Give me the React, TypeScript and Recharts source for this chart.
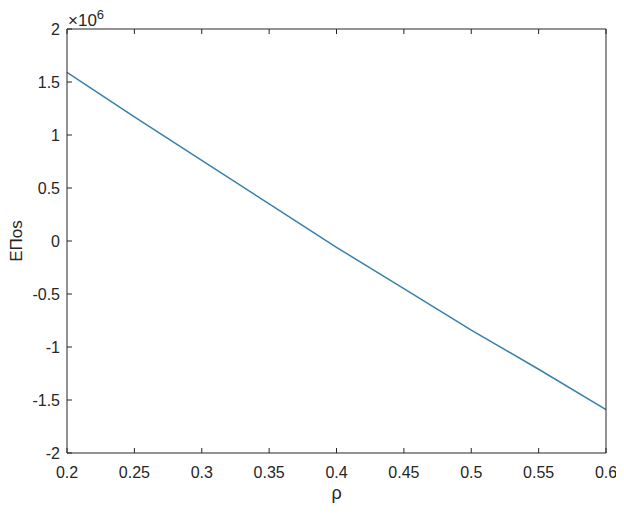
import React from 'react';
import { LineChart, Line, XAxis, YAxis, Label } from 'recharts';

const rho = [0.2, 0.25, 0.3, 0.35, 0.4, 0.45, 0.5, 0.55, 0.6];
const ePos = [1.59e6, 1.17e6, 0.76e6, 0.35e6, -0.06e6, -0.45e6, -0.84e6, -1.21e6, -1.59e6];
const xTicks = [0.2, 0.25, 0.3, 0.35, 0.4, 0.45, 0.5, 0.55, 0.6];
const yTicks = [-2e6, -1.5e6, -1e6, -0.5e6, 0, 0.5e6, 1e6, 1.5e6, 2e6];
const yScaleExp = 6;

const data = rho.map((r, i) => ({ rho: r, v: ePos[i] }));

const AX = '#262626';
const FONT = 'Arial, "Liberation Sans", Helvetica, sans-serif';
const TL = 5;

const BottomTick = (p: any) => {
  const m = 16;
  const ay = p.y - m;
  const x = p.payload.coordinate;
  return (
    <g>
      <line x1={x} x2={x} y1={ay} y2={ay - TL} stroke={AX} strokeWidth={1} />
      <text x={x} y={ay + 25} textAnchor="middle" fontSize={16} fill={AX}>
        {String(p.payload.value)}
      </text>
    </g>
  );
};

const TopTick = (p: any) => {
  const m = 4;
  const ay = p.y + m;
  const x = p.payload.coordinate;
  return <line x1={x} x2={x} y1={ay} y2={ay + TL} stroke={AX} strokeWidth={1} />;
};

const LeftTick = (p: any) => {
  const m = 8;
  const ax = p.x + m;
  const y = p.payload.coordinate;
  const isTop = p.payload.value === yTicks[yTicks.length - 1];
  return (
    <g>
      <line x1={ax} x2={ax + TL} y1={y} y2={y} stroke={AX} strokeWidth={1} />
      <text x={ax - 7} y={y + 6} textAnchor="end" fontSize={16} fill={AX}>
        {String(p.payload.value / Math.pow(10, yScaleExp))}
      </text>
      {isTop && (
        <text x={ax + 1} y={y - 3} fontSize={17} fill={AX}>
          ×10
          <tspan dy={-7} fontSize={13}>
            {String(yScaleExp)}
          </tspan>
        </text>
      )}
    </g>
  );
};

const RightTick = (p: any) => {
  const m = 4;
  const ax = p.x - m;
  const y = p.payload.coordinate;
  return <line x1={ax} x2={ax - TL} y1={y} y2={y} stroke={AX} strokeWidth={1} />;
};

export default function App() {
  return (
    <LineChart
      width={616}
      height={497}
      data={data}
      margin={{ top: 20, right: 17, bottom: 0, left: 0 }}
      style={{ fontFamily: FONT, overflow: 'visible' }}
    >
      <XAxis
        xAxisId="b"
        dataKey="rho"
        type="number"
        domain={[0.2, 0.6]}
        ticks={xTicks}
        allowDataOverflow
        height={52}
        tickSize={0}
        tickMargin={16}
        tickLine={false}
        stroke={AX}
        tick={BottomTick}
        interval={0}
      >
        <Label
          content={(p: any) => {
            const vb = p.viewBox;
            return (
              <text x={vb.x + vb.width / 2} y={vb.y + 46} textAnchor="middle" fontSize={18} fill={AX}>
                ρ
              </text>
            );
          }}
        />
      </XAxis>
      <XAxis
        xAxisId="t"
        dataKey="rho"
        type="number"
        orientation="top"
        domain={[0.2, 0.6]}
        ticks={xTicks}
        height={1}
        tickSize={0}
        tickMargin={4}
        tickLine={false}
        stroke={AX}
        tick={TopTick}
        interval={0}
      />
      <YAxis
        yAxisId="l"
        type="number"
        domain={[-2e6, 2e6]}
        ticks={yTicks}
        width={59}
        tickSize={0}
        tickMargin={8}
        tickLine={false}
        stroke={AX}
        tick={LeftTick}
        interval={0}
      >
        <Label
          content={(p: any) => {
            const vb = p.viewBox;
            const cx = vb.x + 8;
            const cy = vb.y + vb.height / 2;
            return (
              <text
                x={cx}
                y={cy}
                textAnchor="middle"
                dominantBaseline="central"
                fontSize={17}
                fill={AX}
                transform={`rotate(-90 ${cx} ${cy})`}
              >
                EΠos
              </text>
            );
          }}
        />
      </YAxis>
      <YAxis
        yAxisId="r"
        orientation="right"
        type="number"
        domain={[-2e6, 2e6]}
        ticks={yTicks}
        width={1}
        tickSize={0}
        tickMargin={4}
        tickLine={false}
        stroke={AX}
        tick={RightTick}
        interval={0}
      />
      <Line
        xAxisId="b"
        yAxisId="l"
        dataKey="v"
        type="linear"
        stroke="#3a80aa"
        strokeWidth={1.5}
        dot={false}
        isAnimationActive={false}
      />
    </LineChart>
  );
}
